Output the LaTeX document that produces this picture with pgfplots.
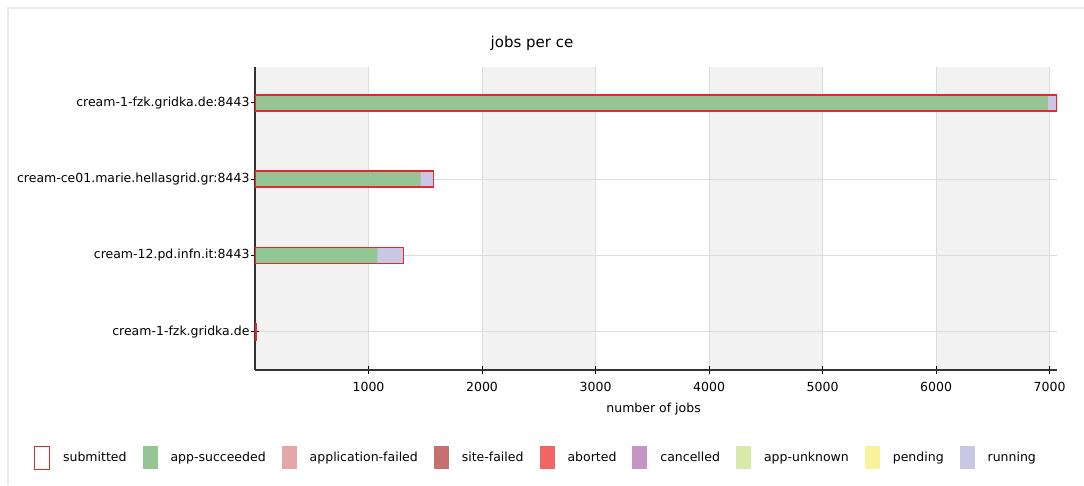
\documentclass[border=0pt]{standalone}
\usepackage{fontspec}
\setmainfont{DejaVu Sans}
\usepackage{pgfplots}
\pgfplotsset{compat=1.18}
\definecolor{succ}{HTML}{94C594}
\definecolor{run}{HTML}{CAC7E4}
\definecolor{subm}{HTML}{DF2A2E}
\definecolor{appfail}{HTML}{E3A7A7}
\definecolor{sitefail}{HTML}{C77070}
\definecolor{abort}{HTML}{F06666}
\definecolor{cancel}{HTML}{C595C5}
\definecolor{unknown}{HTML}{D9E9A9}
\definecolor{pend}{HTML}{F7F39A}
\definecolor{band}{HTML}{F2F2F2}
\definecolor{gridc}{HTML}{DCDCDC}
\definecolor{framec}{HTML}{EBEBEB}
\newcommand{\lblfont}{\fontsize{12.5}{15}\selectfont}
\begin{document}
\begin{tikzpicture}
\useasboundingbox (0pt,0pt) rectangle (1084pt,-485pt);
\draw[framec, line width=1.5pt] (8pt,-485pt) -- (8pt,-8pt) -- (1084pt,-8pt);
\pgfplotsset{
  common/.style={
    at={(255pt,-370pt)}, anchor=south west,
    scale only axis, width=802pt, height=303pt,
    xmin=0, xmax=7065, ymin=-0.5, ymax=3.47,
    bar width=16pt,
  }
}
% background: bands and grid
\begin{axis}[
  common,
  axis on top,
  xtick={1000,2000,...,7000},
  ytick={0,1,2,3},
  xticklabels={}, yticklabels={},
  major tick length=0pt,
  xmajorgrids, ymajorgrids,
  grid style={gridc, line width=0.9pt},
  axis line style={draw=none},
]
\fill[band] (axis cs:0,-0.5) rectangle (axis cs:1000,3.47);
\fill[band] (axis cs:2000,-0.5) rectangle (axis cs:3000,3.47);
\fill[band] (axis cs:4000,-0.5) rectangle (axis cs:5000,3.47);
\fill[band] (axis cs:6000,-0.5) rectangle (axis cs:7000,3.47);
\end{axis}
% data: submitted (total) drawn as outline on top of running (total) and app-succeeded
\begin{axis}[
  common,
  xbar, bar shift=0pt,
  xtick={1000,2000,...,7000},
  ytick={0,1,2,3},
  yticklabels={cream-1-fzk.gridka.de, cream-12.pd.infn.it:8443, cream-ce01.marie.hellasgrid.gr:8443, cream-1-fzk.gridka.de:8443},
  axis lines*=left,
  tick align=center, major tick length=8pt,
  tick style={black, line width=1pt},
  axis line style={black!80, line width=1.5pt},
  /pgf/number format/assume math mode=true,
  /pgf/number format/1000 sep={},
  ticklabel style={font=\lblfont},
  xticklabel style={yshift=-5pt},
  yticklabel style={xshift=2pt},
  title={jobs per ce},
  title style={at={(0.3454,1.0594)}, anchor=center, font=\fontsize{15}{18}\selectfont},
  xlabel={number of jobs},
  xlabel style={at={(axis description cs:0.497,-0.13)}, anchor=center, font=\lblfont},
  legend columns=9,
  legend style={at={(0.3504,-0.2888)}, anchor=center, draw=none, fill=none,
    font=\lblfont,
    /tikz/every odd column/.append style={column sep=11pt},
    /tikz/every even column/.append style={column sep=14pt}},
  legend cell align=left,
  legend image code/.code={\path[#1] (0pt,-11.5pt) rectangle (15pt,11.5pt);},
  reverse legend=false,
]
% running: bar end = app-succeeded + running
\addplot[fill=run, draw=none, forget plot] coordinates {(8,0) (1308,1) (1573,2) (7063,3)};
% app-succeeded
\addlegendimage{draw=subm, line width=1pt, fill=white}
\addlegendentry{submitted}
\addplot[fill=succ, draw=none] coordinates {(5,0) (1079,1) (1458,2) (6985,3)};
\addlegendentry{app-succeeded}
\addlegendimage{fill=appfail, draw=none}
\addlegendentry{application-failed}
\addlegendimage{fill=sitefail, draw=none}
\addlegendentry{site-failed}
\addlegendimage{fill=abort, draw=none}
\addlegendentry{aborted}
\addlegendimage{fill=cancel, draw=none}
\addlegendentry{cancelled}
\addlegendimage{fill=unknown, draw=none}
\addlegendentry{app-unknown}
\addlegendimage{fill=pend, draw=none}
\addlegendentry{pending}
\addlegendimage{fill=run, draw=none}
\addlegendentry{running}
% submitted outline
\addplot[draw=subm, line width=1.6pt, fill=none, forget plot] coordinates {(8,0) (1308,1) (1573,2) (7063,3)};
\end{axis}
\end{tikzpicture}
\end{document}
